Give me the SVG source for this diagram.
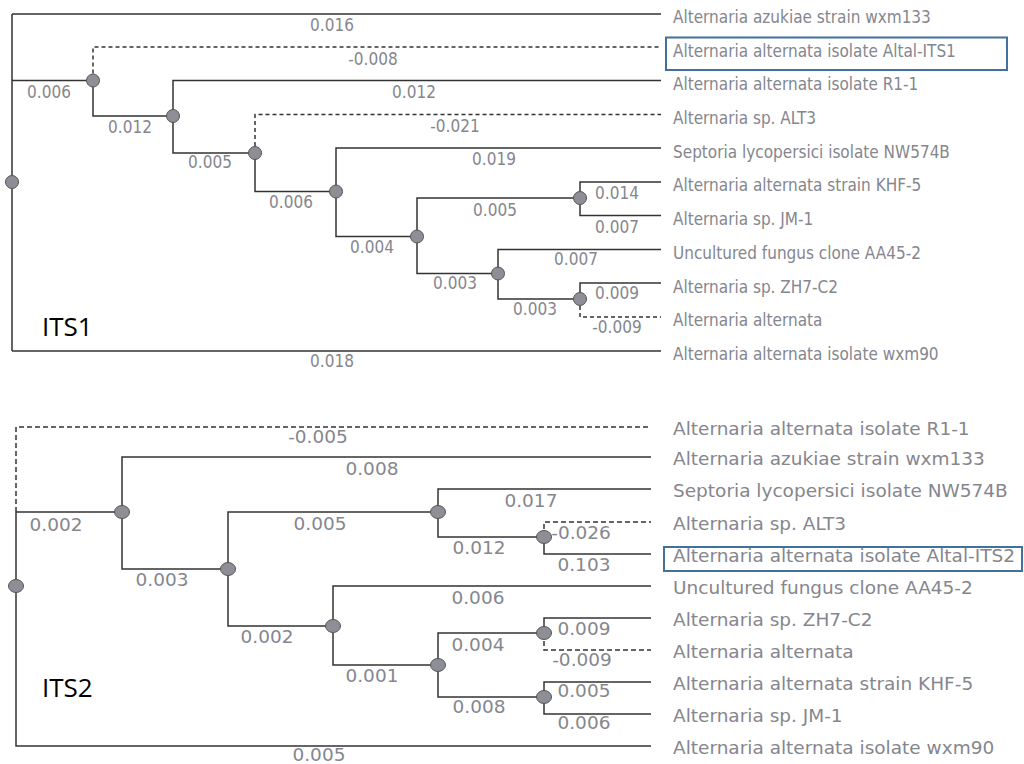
<svg xmlns="http://www.w3.org/2000/svg" width="1024" height="764" viewBox="0 0 1024 764">
<style>
.br{fill:none;stroke:#333;stroke-width:1.5}
.ds{stroke-dasharray:4 3}
.nd{fill:#8e8e96;stroke:#555;stroke-width:1}
.t{font-family:"DejaVu Sans Condensed","DejaVu Sans",sans-serif;font-stretch:condensed;font-size:17px;fill:#85868e}
.m{text-anchor:middle}
.big{font-family:"Open Sans","Liberation Sans",sans-serif;font-size:26px;fill:#000}
.box{fill:none;stroke:#41719c;stroke-width:2}
</style>
<rect width="1024" height="764" fill="#fff"/>
<g id="connectors">
<path class="br" d="M12 14V351M12 14H661M12 80.5H93M93 80.5V116H173M173 116V80.5H661M173 116V153H255M255 153V191.5H336M336 191.5V148H661M336 191.5V236.5H417M417 236.5V198H580M580 198V182H661M580 198V215.5H661M417 236.5V273.5H498M498 273.5V249.5H661M498 273.5V299H580M580 299V283H661M12 351H661"/>
<path class="br ds" d="M93 80.5V47H661M255 153V114.5H661M580 299V317H661"/>
<path class="br" d="M16 512V746H651M16 512H122M122 512V457H651M122 512V569H228M228 569V512H438M438 512V489H651M438 512V537H544M544 537V554H651M228 569V626H333M333 626V586H651M333 626V665H438M438 665V633H544M544 633V618H651M438 665V697H544M544 697V682H651M544 697V714H651"/>
<path class="br" style="stroke-dasharray:5 3" d="M16 512V427H651M544 537V522H651M544 633V650H651"/>
</g>
<g id="its1-internal-nodes">
<circle id="n1-root" class="nd" cx="12" cy="182" r="6.5"/>
<circle id="n1-a" class="nd" cx="93" cy="80.5" r="6.5"/>
<circle id="n1-b" class="nd" cx="173" cy="116" r="6.5"/>
<circle id="n1-c" class="nd" cx="255" cy="153" r="6.5"/>
<circle id="n1-d" class="nd" cx="336" cy="191.5" r="6.5"/>
<circle id="n1-e" class="nd" cx="417" cy="236.5" r="6.5"/>
<circle id="n1-f" class="nd" cx="580" cy="198" r="6.5"/>
<circle id="n1-g" class="nd" cx="498" cy="273.5" r="6.5"/>
<circle id="n1-h" class="nd" cx="580" cy="299" r="6.5"/>
</g>
<g id="its2-internal-nodes">
<ellipse id="n2-root" class="nd" cx="16" cy="586" rx="7.5" ry="6.5"/>
<ellipse id="n2-a" class="nd" cx="122" cy="512" rx="7.5" ry="6.5"/>
<ellipse id="n2-b" class="nd" cx="228" cy="569" rx="7.5" ry="6.5"/>
<ellipse id="n2-c" class="nd" cx="438" cy="512" rx="7.5" ry="6.5"/>
<ellipse id="n2-e" class="nd" cx="544" cy="537" rx="7.5" ry="6.5"/>
<ellipse id="n2-d" class="nd" cx="333" cy="626" rx="7.5" ry="6.5"/>
<ellipse id="n2-f" class="nd" cx="438" cy="665" rx="7.5" ry="6.5"/>
<ellipse id="n2-g" class="nd" cx="544" cy="633" rx="7.5" ry="6.5"/>
<ellipse id="n2-h" class="nd" cx="544" cy="697" rx="7.5" ry="6.5"/>
</g>
<g id="its1-branch-labels" class="t m">
<text x="332" y="31">0.016</text>
<text x="373" y="65">-0.008</text>
<text x="49" y="98">0.006</text>
<text x="414" y="98">0.012</text>
<text x="130" y="133">0.012</text>
<text x="455" y="132">-0.021</text>
<text x="210" y="168">0.005</text>
<text x="494" y="165">0.019</text>
<text x="291" y="208">0.006</text>
<text x="617" y="199">0.014</text>
<text x="495" y="216">0.005</text>
<text x="617" y="233">0.007</text>
<text x="372" y="253">0.004</text>
<text x="576" y="265">0.007</text>
<text x="455" y="289">0.003</text>
<text x="617" y="299">0.009</text>
<text x="535" y="315">0.003</text>
<text x="617" y="333">-0.009</text>
<text x="332" y="367">0.018</text>
</g>
<g id="its1-leaves" class="t">
<text id="l1-1" x="673" y="23">Alternaria azukiae strain wxm133</text>
<g id="l1-2"><rect class="box" x="666" y="37.5" width="341" height="32.5"/><text x="673" y="57">Alternaria alternata isolate Altal-ITS1</text></g>
<text id="l1-3" x="673" y="90">Alternaria alternata isolate R1-1</text>
<text id="l1-4" x="673" y="124">Alternaria sp. ALT3</text>
<text id="l1-5" x="673" y="157.5">Septoria lycopersici isolate NW574B</text>
<text id="l1-6" x="673" y="191">Alternaria alternata strain KHF-5</text>
<text id="l1-7" x="673" y="225">Alternaria sp. JM-1</text>
<text id="l1-8" x="673" y="258.5">Uncultured fungus clone AA45-2</text>
<text id="l1-9" x="673" y="292.5">Alternaria sp. ZH7-C2</text>
<text id="l1-10" x="673" y="326">Alternaria alternata</text>
<text id="l1-11" x="673" y="360">Alternaria alternata isolate wxm90</text>
</g>
<text id="its1-title" class="big" x="42" y="336">ITS1</text>
<g id="its2-box"><rect class="box" x="664" y="547" width="358" height="24"/></g>
<g id="its2-text" class="t" transform="scale(1.21 1)">
<g id="its2-branch-labels" class="m">
<text x="262.8" y="443">-0.005</text>
<text x="307.4" y="475">0.008</text>
<text x="46.3" y="531">0.002</text>
<text x="264.5" y="530">0.005</text>
<text x="438.8" y="507">0.017</text>
<text x="395.9" y="554">0.012</text>
<text x="480.2" y="539">-0.026</text>
<text x="482.6" y="571">0.103</text>
<text x="133.9" y="586">0.003</text>
<text x="395" y="604">0.006</text>
<text x="220.7" y="643">0.002</text>
<text x="482.6" y="635">0.009</text>
<text x="395" y="651">0.004</text>
<text x="481" y="666">-0.009</text>
<text x="307.4" y="682">0.001</text>
<text x="482.6" y="697">0.005</text>
<text x="395.9" y="713">0.008</text>
<text x="482.6" y="729">0.006</text>
<text x="263.6" y="761">0.005</text>
</g>
<g id="its2-leaves">
<text id="l2-1" x="556.2" y="435">Alternaria alternata isolate R1-1</text>
<text id="l2-2" x="556.2" y="465">Alternaria azukiae strain wxm133</text>
<text id="l2-3" x="556.2" y="497">Septoria lycopersici isolate NW574B</text>
<text id="l2-4" x="556.2" y="530">Alternaria sp. ALT3</text>
<text id="l2-5" x="556.2" y="562">Alternaria alternata isolate Altal-ITS2</text>
<text id="l2-6" x="556.2" y="594">Uncultured fungus clone AA45-2</text>
<text id="l2-7" x="556.2" y="626">Alternaria sp. ZH7-C2</text>
<text id="l2-8" x="556.2" y="658">Alternaria alternata</text>
<text id="l2-9" x="556.2" y="690">Alternaria alternata strain KHF-5</text>
<text id="l2-10" x="556.2" y="722">Alternaria sp. JM-1</text>
<text id="l2-11" x="556.2" y="754">Alternaria alternata isolate wxm90</text>
</g>
</g>
<text id="its2-title" class="big" x="42" y="697">ITS2</text>
</svg>
